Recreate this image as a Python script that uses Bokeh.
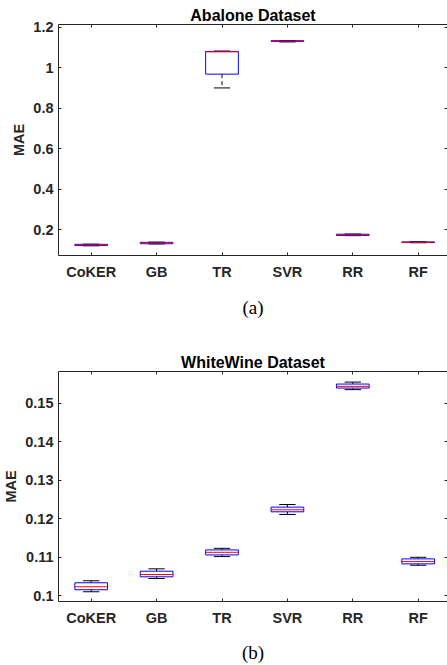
import numpy as np
from bokeh.plotting import figure
from bokeh.layouts import column
from bokeh.models import Range1d, FixedTicker, LinearAxis, CustomJSTickFormatter
from bokeh.embed import file_html
from bokeh.resources import INLINE

methods = ["CoKER", "GB", "TR", "SVR", "RR", "RF"]

# Abalone dataset (MAE box statistics)
aba_lower = [0.121, 0.130, 0.900, 1.127, 0.171, 0.136]
aba_q1 = [0.122, 0.131, 0.968, 1.129, 0.172, 0.137]
aba_median = [0.125, 0.135, 1.078, 1.131, 0.175, 0.138]
aba_q3 = [0.128, 0.138, 1.080, 1.133, 0.178, 0.140]
aba_upper = [0.129, 0.139, 1.082, 1.134, 0.179, 0.141]
aba_yticks = [0.2, 0.4, 0.6, 0.8, 1.0, 1.2]

# WhiteWine dataset (MAE box statistics)
ww_lower = [0.10103, 0.10447, 0.11016, 0.12109, 0.15349, 0.10791]
ww_q1 = [0.10155, 0.10491, 0.11059, 0.12178, 0.15390, 0.10827]
ww_median = [0.10233, 0.10550, 0.11127, 0.12230, 0.15434, 0.10886]
ww_q3 = [0.10336, 0.10636, 0.11189, 0.12300, 0.15494, 0.10956]
ww_upper = [0.10388, 0.10698, 0.11230, 0.12367, 0.15545, 0.10997]
ww_yticks = [0.10, 0.11, 0.12, 0.13, 0.14, 0.15]

TXT = "#262626"
SANS = "Liberation Sans"
SERIF = "Liberation Serif"


def make_panel(title, caption, lower, q1, med, q3, upper, yticks, yrange,
               height, top, bottom, title_standoff, cap_standoff):
    pos = np.arange(1, len(methods) + 1, dtype=float)
    p = figure(width=447, height=height, output_backend="svg", toolbar_location=None,
               x_range=Range1d(0.5, 6.448), y_range=Range1d(*yrange),
               min_border_left=55, min_border_right=0,
               min_border_top=top, min_border_bottom=bottom)
    p.xgrid.visible = False
    p.ygrid.visible = False
    p.outline_line_color = None
    p.background_fill_color = "white"
    p.border_fill_color = "white"

    # title above
    p.title.text = title
    p.title.align = "center"
    p.title.offset = 2
    p.title.standoff = title_standoff
    p.title.text_font = SANS
    p.title.text_font_style = "bold"
    p.title.text_font_size = "16px"
    p.title.text_color = "black"

    # axes
    p.xaxis.ticker = FixedTicker(ticks=list(pos))
    p.xaxis.major_label_overrides = {int(i): m for i, m in zip(pos, methods)}
    p.xaxis.major_label_standoff = 8
    p.xaxis.axis_label = caption
    p.xaxis.axis_label_standoff = cap_standoff
    p.xaxis.axis_label_text_font = SERIF
    p.xaxis.axis_label_text_font_style = "normal"
    p.xaxis.axis_label_text_font_size = "19px"
    p.xaxis.axis_label_text_color = "black"
    p.yaxis.ticker = FixedTicker(ticks=yticks)
    p.yaxis.formatter = CustomJSTickFormatter(
        code="var s = tick.toFixed(2); s = s.replace(/0+$/, ''); return s.replace(/\\.$/, '');")
    p.yaxis.major_label_standoff = 5
    p.yaxis.axis_label = "MAE"
    p.yaxis.axis_label_standoff = 3
    p.yaxis.axis_label_text_font = SANS
    p.yaxis.axis_label_text_font_style = "bold"
    p.yaxis.axis_label_text_font_size = "14.5px"
    p.yaxis.axis_label_text_color = TXT
    for ax in (p.xaxis[0], p.yaxis[0]):
        ax.axis_line_color = TXT
        ax.axis_line_width = 1
        ax.major_tick_line_color = TXT
        ax.major_tick_in = 3
        ax.major_tick_out = 0
        ax.minor_tick_line_color = None
        ax.major_label_text_font = SANS
        ax.major_label_text_font_style = "bold"
        ax.major_label_text_font_size = "14.5px"
        ax.major_label_text_color = TXT

    blank = CustomJSTickFormatter(code="return '';")
    top_ax = LinearAxis(ticker=FixedTicker(ticks=list(pos)), formatter=blank,
                        major_label_standoff=0, major_tick_in=3, major_tick_out=0,
                        minor_tick_line_color=None, axis_line_color=TXT,
                        major_tick_line_color=TXT, major_label_text_font_size="1px")
    right_ax = LinearAxis(ticker=FixedTicker(ticks=yticks), formatter=blank,
                          major_label_standoff=0, major_tick_in=3, major_tick_out=0,
                          minor_tick_line_color=None, axis_line_color=None,
                          major_tick_line_color=TXT, major_label_text_font_size="1px")
    p.add_layout(top_ax, "above")
    p.add_layout(right_ax, "right")

    lower = np.array(lower); q1 = np.array(q1); med = np.array(med)
    q3 = np.array(q3); upper = np.array(upper)

    # whiskers (dashed)
    p.segment(x0=pos, x1=pos, y0=q3, y1=upper, line_color="black", line_width=1, line_dash="4 3")
    p.segment(x0=pos, x1=pos, y0=q1, y1=lower, line_color="black", line_width=1, line_dash="4 3")
    # caps
    p.segment(x0=pos - 0.125, x1=pos + 0.125, y0=upper, y1=upper, line_color="black", line_width=1)
    p.segment(x0=pos - 0.125, x1=pos + 0.125, y0=lower, y1=lower, line_color="black", line_width=1)
    # boxes
    p.vbar(x=pos, width=0.5, bottom=q1, top=q3, fill_color=None,
           line_color="#0000FF", line_width=1)
    # medians
    p.segment(x0=pos - 0.25, x1=pos + 0.25, y0=med, y1=med, line_color="#FF0000", line_width=1)
    return p


p1 = make_panel("Abalone Dataset", "(a)", aba_lower, aba_q1, aba_median, aba_q3, aba_upper,
                aba_yticks, (0.073, 1.213), 322, 24, 67, 1, 14)
p2 = make_panel("WhiteWine Dataset", "(b)", ww_lower, ww_q1, ww_median, ww_q3, ww_upper,
                ww_yticks, (0.0985, 0.1582), 343, 49, 63, 2, 13)

layout = column(p1, p2, spacing=0)
open("out.html", "w").write(file_html(layout, INLINE))
